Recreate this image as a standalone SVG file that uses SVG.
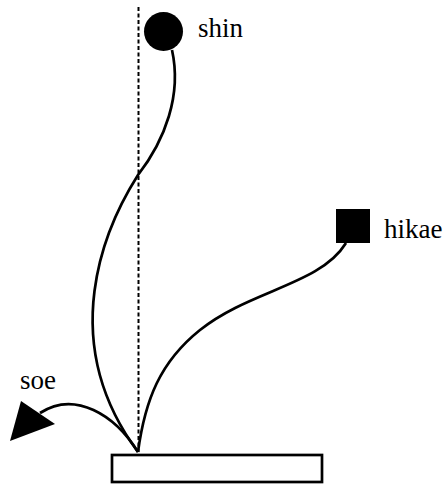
<svg xmlns="http://www.w3.org/2000/svg" width="447" height="484" viewBox="0 0 447 484">
<style>
.c{fill:none;stroke:#000;stroke-width:2.7}
.t{font-family:"Liberation Serif",serif;font-size:27px;fill:#000}
</style>
<rect width="447" height="484" fill="#fff"/>
<g id="connectors">
<line x1="138.5" y1="7" x2="138.5" y2="452" stroke="#000" stroke-width="2" stroke-dasharray="4,2.5"/>
<path class="c" d="M172,50 C182,95 165,140 138,175 C105,227 55,340 138,452"/>
<path class="c" d="M346,243 C320,285 250,290 200,330 C160,362 145,400 138,452"/>
<path class="c" d="M138,452 C115,415 75,390 40,413"/>
<polygon points="10,441 21,401 55,424" fill="#000"/>
</g>
<g id="shin">
<circle cx="163.5" cy="31.5" r="19.5" fill="#000"/>
<text class="t" x="198" y="37">shin</text>
</g>
<g id="hikae">
<rect x="336" y="209" width="34" height="34" fill="#000"/>
<text class="t" x="384" y="238">hikae</text>
</g>
<g id="soe">
<text class="t" x="20" y="389">soe</text>
</g>
<g id="base">
<rect x="112" y="455" width="210" height="27" fill="#fff" stroke="#000" stroke-width="2.7"/>
</g>
</svg>
